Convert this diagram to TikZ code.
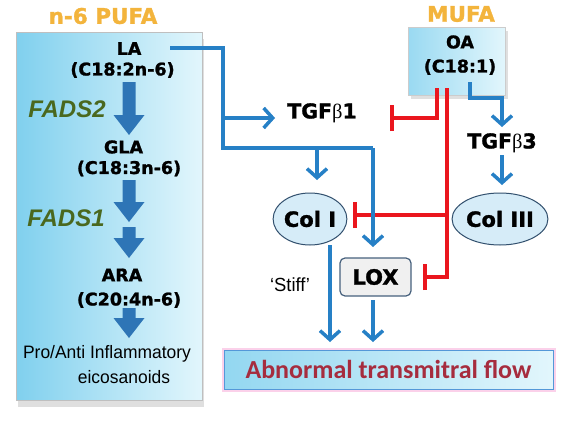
\documentclass[tikz,border=0pt]{standalone}
\usepackage{fontspec}
\setmainfont{DejaVu Sans}[BoldFeatures={FakeBold=1.3}]
\newfontfamily\arialf{Liberation Sans}
\newfontfamily\arialn[FakeStretch=0.97]{Liberation Sans}
\newfontfamily\serifb{Liberation Serif}
\newfontfamily\calib{Carlito}
\usetikzlibrary{arrows.meta,shadows,shapes.geometric}
\definecolor{lnblue}{RGB}{38,128,198}
\definecolor{blkblue}{RGB}{46,117,182}
\definecolor{inhred}{RGB}{234,22,30}
\definecolor{titlegold}{RGB}{243,180,60}
\definecolor{fadsgreen}{RGB}{74,104,30}
\definecolor{flowred}{RGB}{166,44,62}
\definecolor{boxl}{RGB}{128,208,238}
\definecolor{boxr}{RGB}{226,246,252}
\definecolor{ellfill}{RGB}{214,236,248}
\definecolor{ellline}{RGB}{50,80,110}
\newcommand\blockarrow[3]{%
  \fill[blkblue] (#1-6.5,#2) -- (#1+6.5,#2) -- (#1+6.5,#3-20) -- (#1+15.5,#3-20)
    -- (#1,#3) -- (#1-15.5,#3-20) -- (#1-6.5,#3-20) -- cycle;}
\begin{document}
\begin{tikzpicture}[x=1pt,y=-1pt,
  title/.style={inner sep=0, text=titlegold, font=\fontsize{21.5}{23}\selectfont\bfseries},
  fa/.style={inner sep=0, font=\fontsize{17.5}{20}\selectfont\bfseries},
  enz/.style={inner sep=0, text=fadsgreen, font=\arialf\fontsize{24}{26}\selectfont\bfseries\itshape},
  tgf/.style={inner sep=0, font=\fontsize{20.5}{22}\selectfont\bfseries},
  colnode/.style={ellipse, draw=ellline, line width=1pt, fill=ellfill, inner sep=0,
     font=\fontsize{21}{23}\selectfont\bfseries},
  plain/.style={inner sep=0, font=\arialn\fontsize{18}{20}\selectfont},
  bline/.style={draw=lnblue, line width=3.5pt},
  barrow/.style={draw=lnblue, line width=3.5pt, -{Straight Barb[length=9pt,width=20pt]}},
  inh/.style={draw=inhred, line width=3.5pt, -{Bar[width=26pt]}},
  ]
\useasboundingbox (0,0) rectangle (566,423);
\fill[white] (0,0) rectangle (566,423);

% boxes
\node[draw=black!25, line width=0.6pt, left color=boxl, right color=boxr,
  minimum width=186pt, minimum height=368pt, inner sep=0,
  drop shadow={shadow xshift=2pt, shadow yshift=-7pt, opacity=.25}] (lbox) at (109,216) {};
\node[draw=black!20, line width=0.6pt, left color=boxl!80!white, right color=boxr,
  minimum width=97pt, minimum height=68pt, inner sep=0,
  drop shadow={shadow xshift=3pt, shadow yshift=-4pt, opacity=.25}] (oabox) at (456.5,61) {};

% titles
\node[title] (pufa) at (103,16) {n-6 PUFA};
\node[title] (mufa) at (461,14) {MUFA};

% left pathway
\node[fa] (la) at (129,48.5) {LA};
\node[fa] (c182) at (122.5,70) {(C18:2n-6)};
\node[enz] (fads2) at (67,109.5) {FADS2};
\node[fa] (gla) at (123.5,147) {GLA};
\node[fa] (c183) at (129,168.5) {(C18:3n-6)};
\node[enz] (fads1) at (66,218) {FADS1};
\node[fa] (ara) at (122,275) {ARA};
\node[fa] (c204) at (129,300) {(C20:4n-6)};
\node[plain] (pro) at (107,354) {Pro/Anti Inflammatory};
\node[plain] (eico) at (124,377) {eicosanoids};

\blockarrow{129}{82}{135}
\blockarrow{129}{180}{222}
\blockarrow{129}{227}{258}
\blockarrow{129}{308}{338}

% right side nodes
\node[fa] (oa) at (460,42) {OA};
\node[fa] (c181) at (460,67) {(C18:1)};
\node[tgf] (tgf1) at (322,113) {TGF{\serifb\mdseries β}1};
\node[tgf] (tgf3) at (502,143) {TGF{\serifb\mdseries β}3};
\node[colnode, minimum width=70pt, minimum height=52pt] (col1) at (310,219) {Col I};
\node[colnode, minimum width=90pt, minimum height=52pt] (col3) at (500,219) {Col III};
\node[draw=ellline!90, line width=1.2pt, rounded corners=5pt, fill=black!6,
  minimum width=71pt, minimum height=38pt, inner sep=0,
  font=\fontsize{21}{23}\selectfont\bfseries] (lox) at (375.5,277) {LOX};
\node[plain, font=\arialn\fontsize{19}{21}\selectfont] (stiff) at (290,285) {‘Stiff’};
\node[draw=cyan!60!blue!70, line width=1pt, left color=boxl!85!white, right color=boxr,
  minimum width=329pt, minimum height=39pt, inner sep=0,
  preaction={draw=magenta!40, line width=5pt, opacity=.45},
  text=flowred, font=\calib\fontsize{26}{28}\selectfont\bfseries] (abn) at (388.5,369.5)
  {Abnormal transmitral flow};

% inhibition (red)
\draw[inh] (437,88) -- (437,118) -- (390,118);
\draw[inh] (447,88) -- (447,277) -- (423,277);
\draw[inh] (447,215) -- (353,215);

% activation (blue)
\draw[bline] (170,48) -- (223,48) -- (223,148) -- (373,148);
\draw[barrow] (223,118) -- (275,118);
\draw[barrow] (317,148) -- (317,180);
\draw[barrow] (373,148) -- (373,247);
\draw[barrow] (470,82) -- (470,98) -- (502,98) -- (502,127);
\draw[barrow] (502,155) -- (502,185);
\draw[barrow] (330,245) -- (330,342);
\draw[barrow] (373,300) -- (373,342);
\end{tikzpicture}
\end{document}
